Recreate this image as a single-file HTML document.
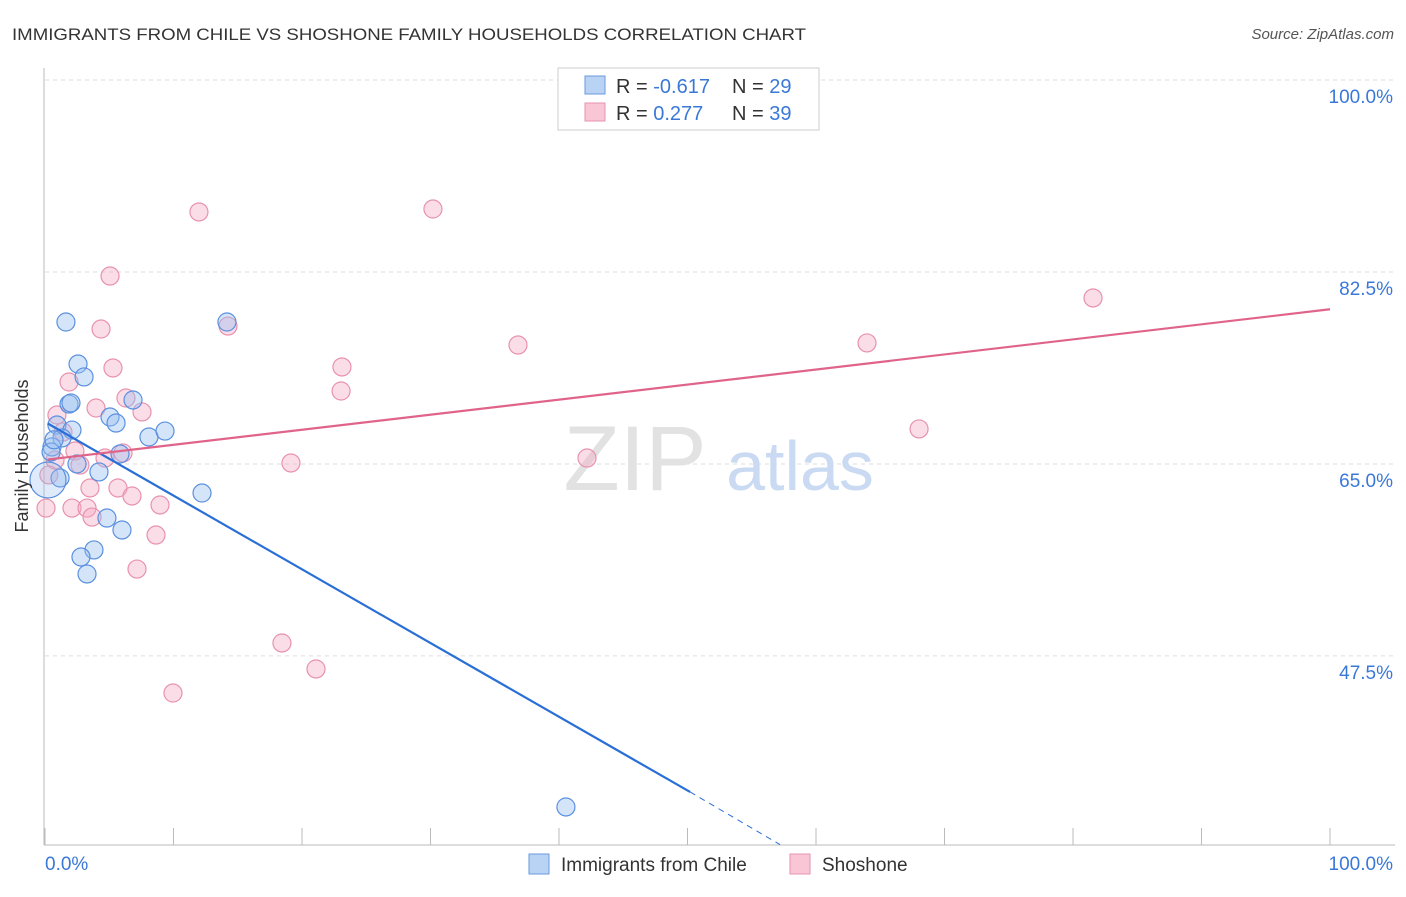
<!DOCTYPE html>
<html><head><meta charset="utf-8"><style>
body{margin:0;background:#fff;font-family:"Liberation Sans",sans-serif}
svg text{font-family:"Liberation Sans",sans-serif}
</style></head><body>
<svg width="1406" height="892" xmlns="http://www.w3.org/2000/svg">
<text x="12" y="40" font-size="17" fill="#333" textLength="794" lengthAdjust="spacingAndGlyphs">IMMIGRANTS FROM CHILE VS SHOSHONE FAMILY HOUSEHOLDS CORRELATION CHART</text>
<text x="1394" y="39" font-size="15" fill="#555" font-style="italic" text-anchor="end">Source: ZipAtlas.com</text>
<g id="grid"></g>
<g><text x="635" y="490" font-size="92" fill="#e2e2e2" font-family="Liberation Serif" text-anchor="middle">ZIP</text><text x="800" y="490" font-size="70" fill="#c9daf2" text-anchor="middle">atlas</text></g>
<line x1="44" y1="68" x2="44" y2="845" stroke="#bbb"/>
<line x1="44" y1="845" x2="1395" y2="845" stroke="#bbb"/>
<g id="pts"></g><g id="lines"></g>
<text x="28" y="456" font-size="18" fill="#333" transform="rotate(-90 28 456)" text-anchor="middle">Family Households</text>
<text x="45" y="870" font-size="19" fill="#3a78d8">0.0%</text>
<text x="1393" y="870" font-size="19" fill="#3a78d8" text-anchor="end">100.0%</text>
<g>
<rect x="558" y="68" width="261" height="62" fill="#fff" stroke="#ccc"/>
<rect x="585" y="76" width="20" height="18" fill="#b9d3f5" stroke="#6a9ae0"/>
<rect x="585" y="103" width="20" height="18" fill="#f9c6d6" stroke="#e892ae"/>
<text x="616" y="93" font-size="20" fill="#333">R = <tspan fill="#3a78d8">-0.617</tspan><tspan x="732">N = </tspan><tspan fill="#3a78d8">29</tspan></text>
<text x="616" y="120" font-size="20" fill="#333">R = <tspan fill="#3a78d8"> 0.277</tspan><tspan x="732">N = </tspan><tspan fill="#3a78d8">39</tspan></text>
</g>
<g>
<rect x="529" y="854" width="20" height="20" fill="#b9d3f5" stroke="#6a9ae0"/>
<text x="561" y="871" font-size="19" fill="#333">Immigrants from Chile</text>
<rect x="790" y="854" width="20" height="20" fill="#f9c6d6" stroke="#e892ae"/>
<text x="822" y="871" font-size="19" fill="#333">Shoshone</text>
</g>
</svg>
<script>
const yTicks=[100,82.5,65,47.5];
const yTickLabels=["100.0%","82.5%","65.0%","47.5%"];
const xTicks=[0,10,20,30,40,50,60,70,80,90,100];
const chileX=[1.63,2.57,3.04,1.87,2.02,5.06,5.53,6.85,8.09,9.34,0.93,2.10,1.32,0.54,0.47,5.84,2.49,1.17,4.2,0.23,12.22,4.82,5.99,3.81,2.8,3.27,14.16,40.54,0.7];
const chileY=[77.94,74.11,72.93,70.46,70.56,69.28,68.73,70.83,67.46,68.0,68.55,68.09,67.37,66.55,66.09,65.91,65.0,63.72,64.27,63.54,62.35,60.07,58.98,57.16,56.52,54.97,77.94,33.73,67.2];
const shoX=[11.98,30.19,5.06,4.36,14.24,36.81,63.97,81.56,23.11,5.29,23.04,1.87,6.3,3.97,7.55,0.93,1.4,2.33,6.07,2.72,4.67,19.14,42.18,68.02,3.5,5.68,6.77,8.95,0.08,2.1,3.27,3.66,8.64,7.16,18.44,21.09,9.96,0.78,0.3];
const shoY=[87.97,88.24,82.13,77.3,77.57,75.84,76.03,80.13,73.84,73.75,71.65,72.47,71.01,70.1,69.74,69.46,67.91,66.18,66.0,64.9,65.54,65.09,65.54,68.19,62.81,62.81,62.08,61.26,60.98,60.98,60.98,60.16,58.52,55.42,48.68,46.31,44.12,65.36,64.0];
const chileTrend=[[0.2,68.7],[50.2,35.1],[57.2,30.3]];
const shoTrend=[[0.2,65.4],[100,79.1]];
const X=v=>45+v*12.85, Y=v=>80+(100-v)*10.97;
const NS="http://www.w3.org/2000/svg";
function mk(t,a,p){const e=document.createElementNS(NS,t);for(const k in a)e.setAttribute(k,a[k]);p.appendChild(e);return e;}
const grid=document.getElementById('grid');
yTicks.forEach((t,i)=>{
 const l=mk('line',{x1:45,x2:1395,y1:Y(t),y2:Y(t),stroke:'#ddd','stroke-dasharray':'4,4'},grid);
 
 
 const tx=mk('text',{x:1393,y:Y(t)+23,'font-size':19,fill:'#3a78d8','text-anchor':'end'},grid);
 tx.textContent=yTickLabels[i];
 
 
});
xTicks.forEach(t=>{
 const l=mk('line',{x1:X(t),x2:X(t),y1:828,y2:845,stroke:'#bbb'},grid);
 
 
});
const pts=document.getElementById('pts');
shoX.forEach((x,i)=>{
 const c=mk('circle',{cx:X(x),cy:Y(shoY[i]),r:9,fill:'rgba(245,170,195,0.4)',stroke:'#e892ae','stroke-width':1.2},pts);
 
 
});
chileX.forEach((x,i)=>{
 const c=mk('circle',{cx:X(x),cy:Y(chileY[i]),r:i==19?18:9,fill:i==19?'rgba(150,190,240,0.3)':'rgba(150,190,240,0.4)',stroke:'#5a90e0','stroke-width':1.2},pts);
 
 
});
const lines=document.getElementById('lines');
let a=mk('line',{x1:X(chileTrend[0][0]),y1:Y(chileTrend[0][1]),x2:X(chileTrend[1][0]),y2:Y(chileTrend[1][1]),stroke:'#2a6fd6','stroke-width':2.2},lines);


let b=mk('line',{x1:X(chileTrend[1][0]),y1:Y(chileTrend[1][1]),x2:X(chileTrend[2][0]),y2:Y(chileTrend[2][1]),stroke:'#2a6fd6','stroke-width':1,'stroke-dasharray':'6,5'},lines);


let c=mk('line',{x1:X(shoTrend[0][0]),y1:Y(shoTrend[0][1]),x2:X(shoTrend[1][0]),y2:Y(shoTrend[1][1]),stroke:'#e0648a','stroke-width':2.2},lines);


</script>
</body></html>
